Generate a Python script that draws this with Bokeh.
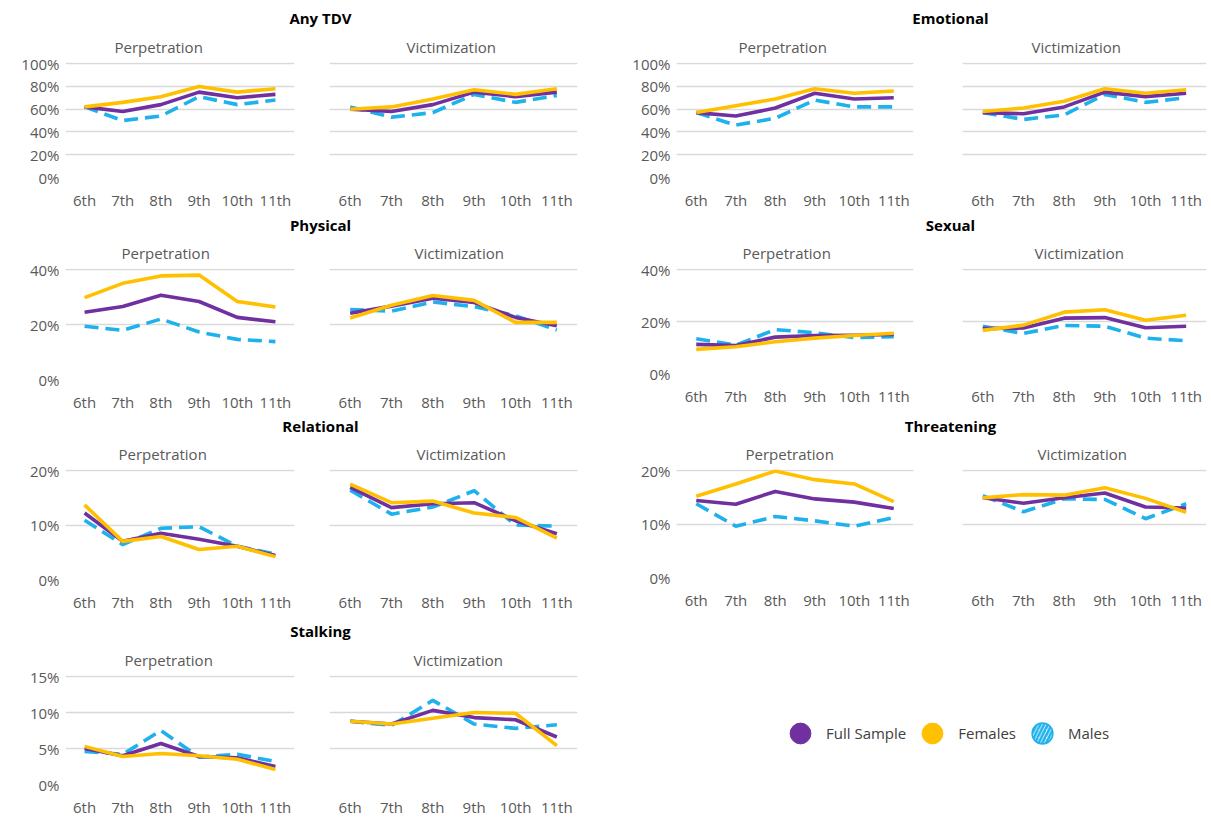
import math
from bokeh.plotting import figure
from bokeh.layouts import column, row
from bokeh.models import (Range1d, FactorRange, FixedTicker, PrintfTickFormatter,
                          Legend, LegendItem, ColumnDataSource)
from bokeh.embed import file_html
from bokeh.resources import INLINE

grades = ["6th", "7th", "8th", "9th", "10th", "11th"]
series_names = ["Full Sample", "Females", "Males"]

# Any TDV (%)
anytdv_perp_full = [62, 58, 64, 75, 70, 73]
anytdv_perp_fem = [62, 66, 71, 80, 75, 78]
anytdv_perp_male = [62, 50, 54, 71, 64, 68]
anytdv_vict_full = [60, 58, 64, 75, 71, 75]
anytdv_vict_fem = [60, 62, 69, 77, 73, 78]
anytdv_vict_male = [62, 53, 57, 73, 66, 72]
# Emotional
emo_perp_full = [57, 54, 61, 74, 69, 70]
emo_perp_fem = [57, 63, 69, 78, 74, 76]
emo_perp_male = [57, 46, 52, 68, 62, 62]
emo_vict_full = [57, 56, 62, 75, 71, 74]
emo_vict_fem = [58, 61, 67, 78, 74, 77]
emo_vict_male = [57, 51, 55, 73, 66, 70]
# Physical
phys_perp_full = [24.5, 26.6, 30.7, 28.4, 22.6, 21.0]
phys_perp_fem = [29.8, 35.0, 37.7, 38.0, 28.4, 26.4]
phys_perp_male = [19.4, 17.9, 22.0, 17.3, 14.6, 13.8]
phys_vict_full = [24.1, 26.7, 29.6, 28.0, 22.6, 19.6]
phys_vict_fem = [22.4, 27.0, 30.6, 28.8, 20.8, 20.8]
phys_vict_male = [25.5, 24.9, 28.2, 26.5, 23.2, 18.0]
# Sexual
sex_perp_full = [11.2, 10.8, 14.0, 14.6, 14.7, 15.0]
sex_perp_fem = [9.3, 10.3, 12.2, 13.6, 14.6, 15.5]
sex_perp_male = [13.4, 10.9, 16.9, 15.7, 13.8, 14.2]
sex_vict_full = [17.3, 17.5, 21.3, 21.5, 17.6, 18.2]
sex_vict_fem = [16.6, 18.6, 23.6, 24.5, 20.5, 22.4]
sex_vict_male = [18.2, 15.4, 18.5, 18.2, 13.6, 12.6]
# Relational
rel_perp_full = [12.2, 7.0, 8.5, 7.4, 6.1, 4.4]
rel_perp_fem = [13.7, 7.0, 7.9, 5.5, 6.1, 4.2]
rel_perp_male = [10.9, 6.4, 9.4, 9.7, 6.1, 4.7]
rel_vict_full = [16.9, 13.2, 13.9, 14.1, 10.8, 8.4]
rel_vict_fem = [17.5, 14.1, 14.4, 12.2, 11.4, 7.6]
rel_vict_male = [16.4, 12.0, 13.3, 16.3, 10.0, 9.8]
# Threatening
thr_perp_full = [14.4, 13.7, 16.1, 14.7, 14.1, 12.9]
thr_perp_fem = [15.2, 17.5, 19.9, 18.3, 17.5, 14.2]
thr_perp_male = [13.8, 9.6, 11.4, 10.6, 9.6, 11.2]
thr_vict_full = [14.9, 13.9, 14.9, 15.8, 13.2, 13.0]
thr_vict_fem = [14.9, 15.5, 15.4, 16.8, 14.8, 12.2]
thr_vict_male = [15.3, 12.3, 14.7, 14.6, 11.0, 13.8]
# Stalking
stalk_perp_full = [5.0, 4.0, 5.7, 3.9, 3.7, 2.5]
stalk_perp_fem = [5.3, 3.9, 4.3, 4.0, 3.5, 2.1]
stalk_perp_male = [4.6, 4.2, 7.5, 3.8, 4.2, 3.2]
stalk_vict_full = [8.8, 8.4, 10.3, 9.3, 9.0, 6.6]
stalk_vict_fem = [8.8, 8.4, 9.2, 10.0, 9.9, 5.4]
stalk_vict_male = [8.8, 8.2, 11.7, 8.4, 7.8, 8.3]

FONT = "Open Sans"
C_FULL = "#7030A0"
C_FEM = "#FFC000"
C_MALE = "#1EB1EC"
GRID = "#D9D9D9"
TXT = "#595959"


def panel(sub, full, fem, male, ymax, step, show_y, w, h, bl, br, bt, frame_h, sub_off):
    bb = h - bt - frame_h
    p = figure(x_range=FactorRange(factors=grades), y_range=Range1d(0, ymax * 1.01),
               width=w, height=h, min_border_left=bl, min_border_right=br,
               min_border_top=bt, min_border_bottom=bb,
               toolbar_location=None, output_backend="svg",
               outline_line_color=None)
    p.title.text = sub
    p.title.align = "left"
    p.title.offset = sub_off
    p.title.text_font = FONT
    p.title.text_font_style = "normal"
    p.title.text_font_size = "15px"
    p.title.text_color = TXT
    p.title.standoff = 12
    src = ColumnDataSource(dict(grade=grades, full=full, fem=fem, male=male))
    p.line("grade", "male", source=src, line_color=C_MALE, line_width=3.6,
           line_dash="14 7")
    p.line("grade", "full", source=src, line_color=C_FULL, line_width=3.6,
           line_join="round")
    p.line("grade", "fem", source=src, line_color=C_FEM, line_width=3.6,
           line_join="round")
    p.xgrid.visible = False
    p.ygrid.grid_line_color = GRID
    p.ygrid.grid_line_width = 1.3
    p.yaxis.ticker = FixedTicker(ticks=list(range(0, ymax + 1, step)))
    p.yaxis.formatter = PrintfTickFormatter(format="%d%%")
    for ax in (p.xaxis[0], p.yaxis[0]):
        ax.axis_line_color = None
        ax.major_tick_line_color = None
        ax.minor_tick_line_color = None
        ax.major_tick_out = 0
        ax.major_tick_in = 0
        ax.minor_tick_out = 0
        ax.minor_tick_in = 0
        ax.major_label_text_font = FONT
        ax.major_label_text_font_size = "15px"
        ax.major_label_text_color = TXT
    p.xaxis.major_label_standoff = 12
    p.yaxis.major_label_standoff = 6
    if not show_y:
        p.yaxis.visible = False
    return p


def group(title, gw, th, tL, tR, perp, vict):
    t = figure(width=gw, height=th, min_border_left=tL, min_border_right=tR,
               min_border_top=th - 1, min_border_bottom=0, x_axis_type=None, y_axis_type=None,
               toolbar_location=None, output_backend="svg", outline_line_color=None,
               title=title)
    t.title.align = "center"
    t.title.text_font = FONT
    t.title.text_font_style = "bold"
    t.title.text_font_size = "15px"
    t.title.text_color = "#000000"
    t.title.standoff = 0
    return column(t, row(perp, vict))


# page origin is the window's top-left corner
# widths: left group 600 = 311 + 289 ; right group 611 = 330 + 281
def left_pair(name, th, data, ymax, step, h, bt, fh, offs):
    pf, pfe, pm, vf, vfe, vm = data
    perp = panel("Perpetration", pf, pfe, pm, ymax, step, True, 311, h, 65, 17, bt, fh, offs[0])
    vict = panel("Victimization", vf, vfe, vm, ymax, step, False, 289, h, 18, 23, bt, fh, offs[1])
    return group(name, 600, th, 40, 0, perp, vict)


def right_pair(name, th, data, ymax, step, h, bt, fh, offs):
    pf, pfe, pm, vf, vfe, vm = data
    perp = panel("Perpetration", pf, pfe, pm, ymax, step, True, 330, h, 76, 17, bt, fh, offs[0])
    vict = panel("Victimization", vf, vfe, vm, ymax, step, False, 281, h, 32, 5, bt, fh, offs[1])
    return group(name, 611, th, 89, 0, perp, vict)


g1 = left_pair("Any TDV", 28, (anytdv_perp_full, anytdv_perp_fem, anytdv_perp_male,
                               anytdv_vict_full, anytdv_vict_fem, anytdv_vict_male),
               100, 20, 185, 33, 116, (49, 77))
g2 = right_pair("Emotional", 28, (emo_perp_full, emo_perp_fem, emo_perp_male,
                                  emo_vict_full, emo_vict_fem, emo_vict_male),
                100, 20, 185, 34, 115, (62, 69))
g3 = left_pair("Physical", 21, (phys_perp_full, phys_perp_fem, phys_perp_male,
                                phys_vict_full, phys_vict_fem, phys_vict_male),
               40, 20, 181, 32, 113, (56, 85))
g4 = right_pair("Sexual", 21, (sex_perp_full, sex_perp_fem, sex_perp_male,
                               sex_vict_full, sex_vict_fem, sex_vict_male),
                40, 20, 181, 31, 108, (66, 72))
g5 = left_pair("Relational", 20, (rel_perp_full, rel_perp_fem, rel_perp_male,
                                  rel_vict_full, rel_vict_fem, rel_vict_male),
               20, 10, 180, 32, 112, (53, 87))
g6 = right_pair("Threatening", 20, (thr_perp_full, thr_perp_fem, thr_perp_male,
                                    thr_vict_full, thr_vict_fem, thr_vict_male),
                20, 10, 180, 32, 110, (69, 75))
g7 = left_pair("Stalking", 26, (stalk_perp_full, stalk_perp_fem, stalk_perp_male,
                                stalk_vict_full, stalk_vict_fem, stalk_vict_male),
               15, 5, 179, 33, 110, (59, 84))

# legend panel
lg = figure(width=611, height=205, min_border=0, x_axis_type=None, y_axis_type=None,
            x_range=Range1d(0, 1), y_range=Range1d(0, 1),
            toolbar_location=None, output_backend="svg", outline_line_color=None)
nan_src = ColumnDataSource(dict(x=[math.nan], y=[math.nan]))
r_full = lg.scatter("x", "y", source=nan_src, marker="circle", size=20,
                    fill_color=C_FULL, line_color=C_FULL)
r_fem = lg.scatter("x", "y", source=nan_src, marker="circle", size=20,
                   fill_color=C_FEM, line_color=C_FEM)
r_male = lg.scatter("x", "y", source=nan_src, marker="circle", size=20,
                    fill_color="white", line_color=C_MALE, line_width=1.5,
                    hatch_pattern="/", hatch_color=C_MALE, hatch_weight=2.6, hatch_scale=7.5)
legend = Legend(items=[LegendItem(label=series_names[0], renderers=[r_full]),
                       LegendItem(label=series_names[1], renderers=[r_fem]),
                       LegendItem(label=series_names[2], renderers=[r_male])],
                orientation="horizontal", location=(174, 61),
                glyph_width=52, glyph_height=52, label_standoff=0, spacing=0,
                padding=0, margin=0, border_line_color=None, background_fill_alpha=0,
                label_text_font=FONT, label_text_font_size="15px", label_text_color="#404040")
lg.add_layout(legend)

layout = column(row(g1, g2), row(g3, g4), row(g5, g6), row(g7, lg))

open("out.html", "w").write(file_html(layout, INLINE))
